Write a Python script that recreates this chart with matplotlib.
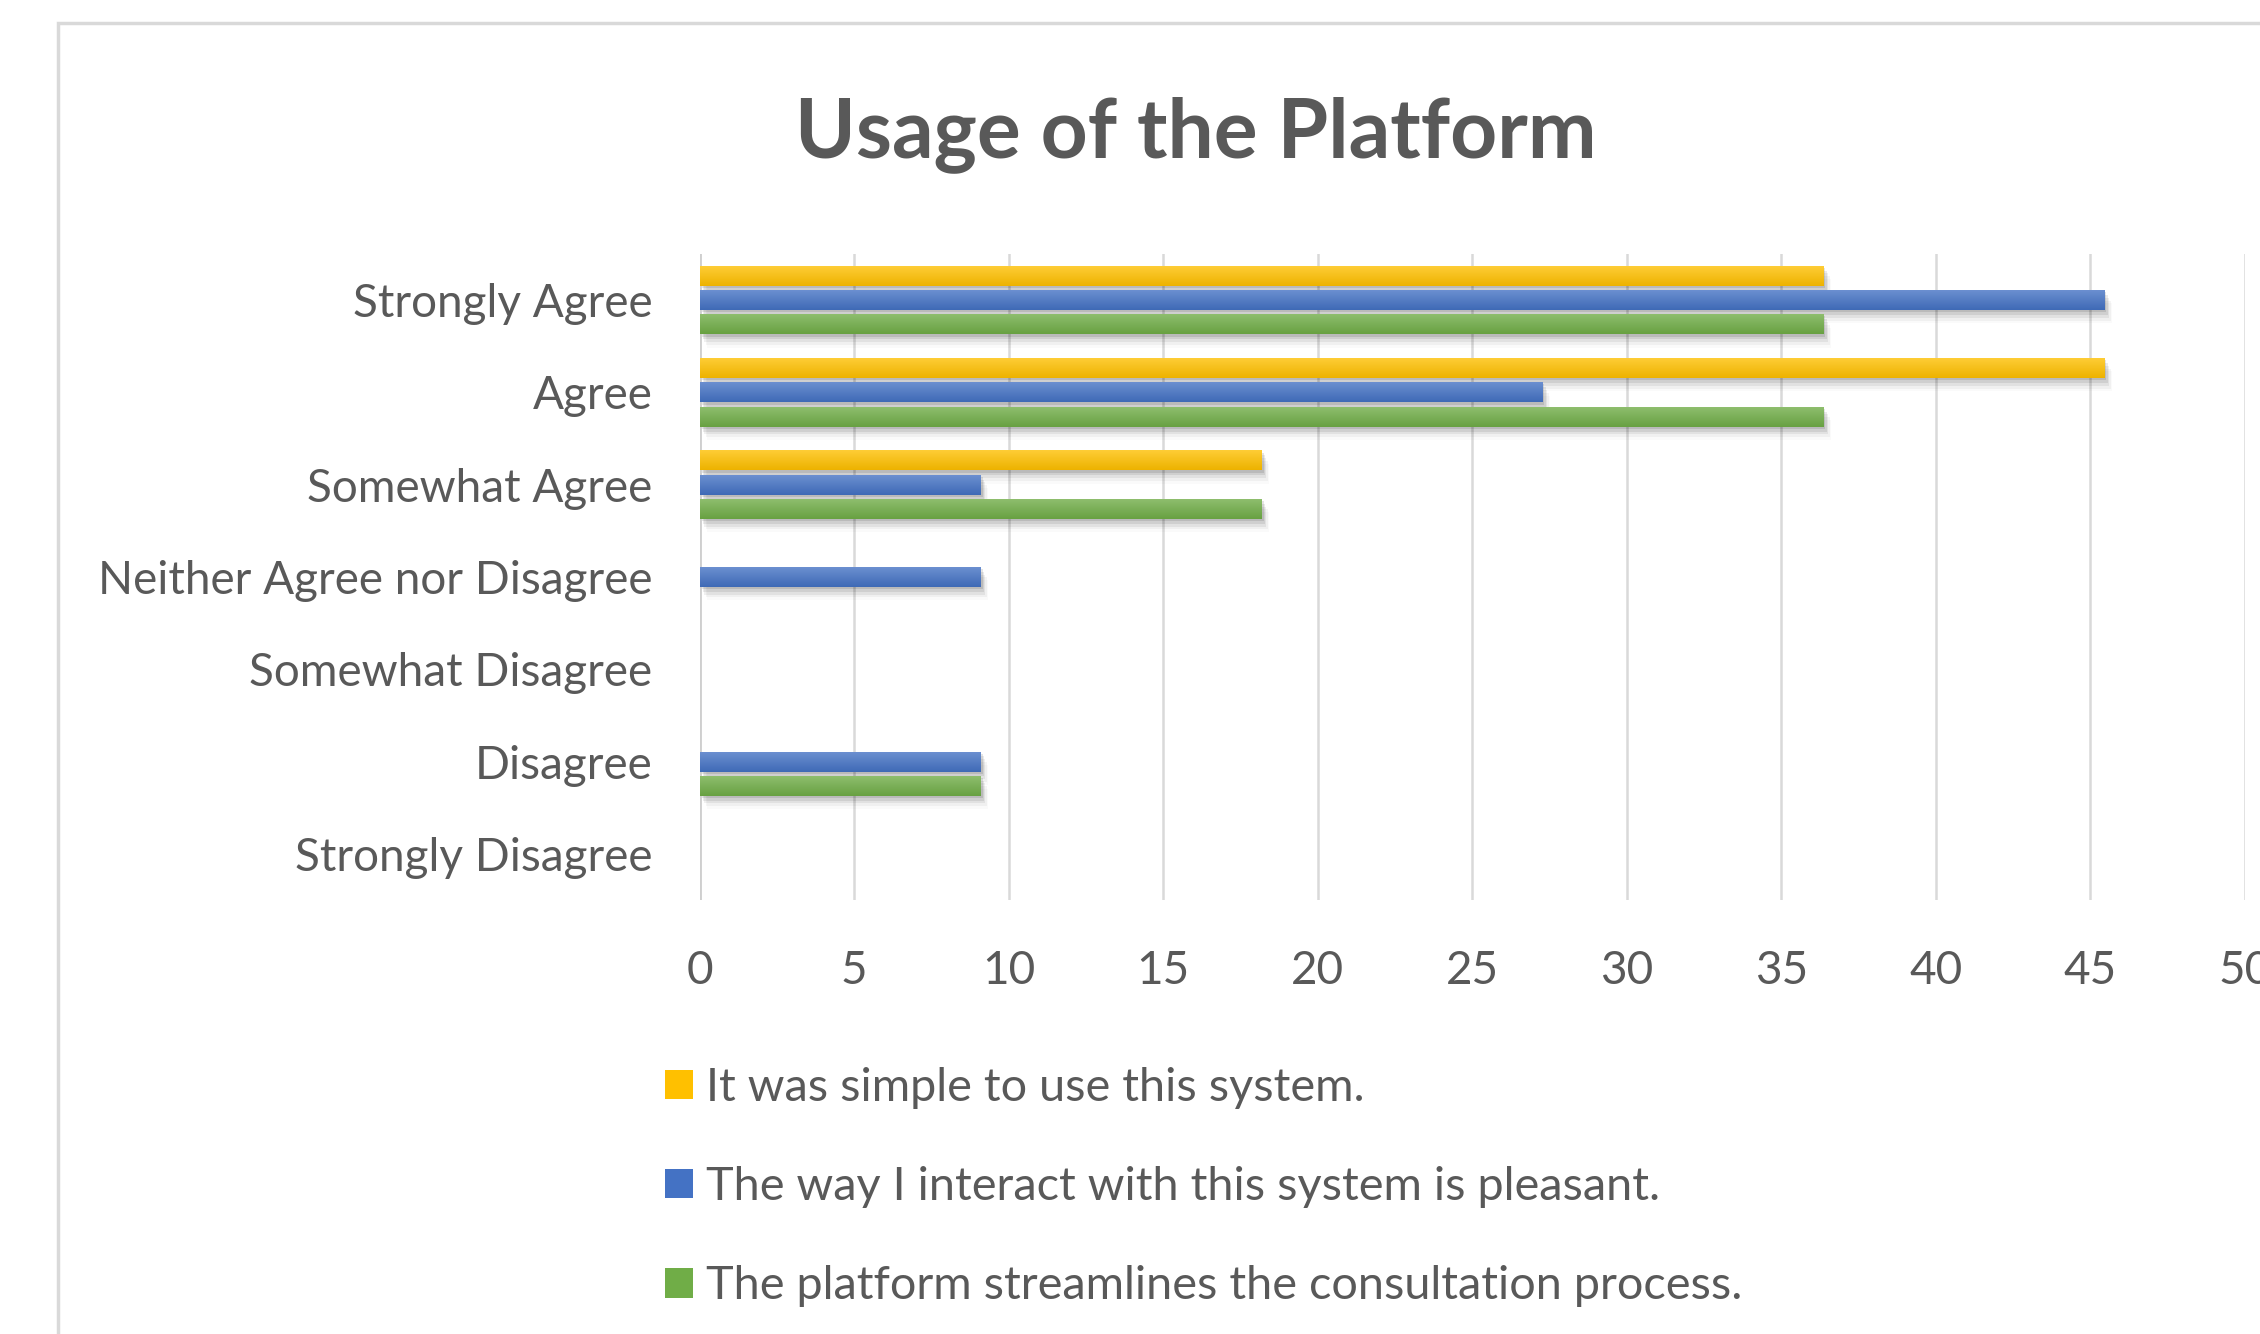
import numpy as np
import matplotlib
matplotlib.use("Agg")
import matplotlib.pyplot as plt
from matplotlib import patheffects as pe
from matplotlib.colors import to_rgb
from matplotlib.patches import Rectangle

plt.rcParams["font.family"] = ["Lato", "DejaVu Sans"]

# survey answers, listed bottom to top as the bars appear
categories = ["Strongly Disagree", "Disagree", "Somewhat Disagree",
              "Neither Agree nor Disagree", "Somewhat Agree", "Agree",
              "Strongly Agree"]
simple_to_use = [0, 0, 0, 0, 18.18, 45.45, 36.36]
pleasant = [0, 9.09, 0, 9.09, 9.09, 27.27, 45.45]
streamlines = [0, 9.09, 0, 0, 18.18, 36.36, 36.36]
series_labels = ["It was simple to use this system.",
                 "The way I interact with this system is pleasant.",
                 "The platform streamlines the consultation process."]
x_ticks = list(range(0, 51, 5))

TEXT = "#595959"
GRID = "#d9d9d9"
colors = ["#FFC000", "#4472C4", "#70AD47"]

W, H = 2260, 1334
fig = plt.figure(figsize=(W / 100, H / 100), dpi=100)

# light chart-area frame
fig.patches.append(Rectangle((58 / W, -0.05), 1.2, 1 - 23 / H + 0.05,
                             transform=fig.transFigure, fill=False,
                             edgecolor=GRID, lw=2.5))

ax = fig.add_axes([699.5 / W, 1 - 900 / H, (2245 - 699.5) / W, (900 - 254) / H])

y = np.arange(len(categories))
step = 0.263
height = 0.217
# stacked soft shadows, offset down and to the right
shadow = [pe.SimplePatchShadow(offset=(1.5, -1.5), shadow_rgbFace="k", alpha=0.10),
          pe.SimplePatchShadow(offset=(2.5, -3.5), shadow_rgbFace="k", alpha=0.08),
          pe.SimplePatchShadow(offset=(3.5, -5.5), shadow_rgbFace="k", alpha=0.06),
          pe.SimplePatchShadow(offset=(4.5, -7.5), shadow_rgbFace="k", alpha=0.04),
          pe.SimplePatchShadow(offset=(5.5, -9.5), shadow_rgbFace="k", alpha=0.02),
          pe.Normal()]


def shade(ax, bars, color):
    # vertical gradient, lighter at the top of each bar
    base = np.array(to_rgb(color))
    top = base + (1 - base) * 0.22
    bot = base * 0.93
    t = np.linspace(0, 1, 32)[:, None]
    grad = (top * (1 - t) + bot * t)[:, None, :]
    for b in bars:
        if b.get_width() <= 0:
            continue
        x0, y0 = b.get_x(), b.get_y()
        im = ax.imshow(grad, extent=[x0, x0 + b.get_width(), y0, y0 + b.get_height()],
                       origin="upper", aspect="auto", zorder=3, interpolation="bilinear")
        im.set_clip_path(b)


series = [simple_to_use, pleasant, streamlines]
offsets = [step, 0, -step]
handles = []
for vals, off, col, lab in zip(series, offsets, colors, series_labels):
    bars = ax.barh(y + off, vals, height=height, color=col, zorder=2, label=lab,
                   path_effects=shadow)
    shade(ax, bars, col)
    handles.append(bars)

ax.set_xlim(0, 50)
ax.set_ylim(-0.5, len(categories) - 0.5)
ax.set_xticks(x_ticks)
ax.set_yticks(y)
ax.set_yticklabels(categories)
ax.tick_params(length=0, labelsize=33, labelcolor=TEXT)
ax.tick_params(axis="x", pad=36)
ax.tick_params(axis="y", pad=34)
for s in ax.spines.values():
    s.set_visible(False)
ax.grid(axis="x", color=GRID, lw=1.8, zorder=0)
ax.axvline(0, color="#cfcfcf", lw=2.6, zorder=1)
ax.set_axisbelow(True)

fig.text(1196 / W, 1 - 157 / H, "Usage of the Platform", ha="center", va="baseline",
         fontsize=59, fontweight="bold", color=TEXT)

leg = fig.legend(handles=handles, labels=series_labels, loc="upper left",
                 bbox_to_anchor=(665 / W, 1 - 1067 / H), frameon=False,
                 fontsize=33.7, handlelength=0.6, handleheight=0.6,
                 handletextpad=0.28, labelspacing=1.22, borderpad=0,
                 borderaxespad=0)
for t in leg.get_texts():
    t.set_color(TEXT)
for h in leg.legend_handles:
    h.set_path_effects([])

fig.savefig("out.png", dpi=100)
